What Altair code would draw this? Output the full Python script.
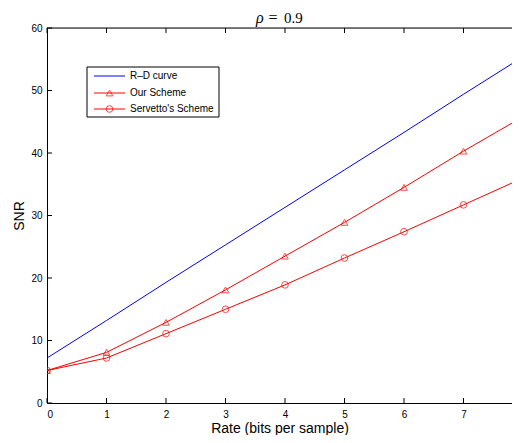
import altair as alt
import pandas as pd

# ---- data ----
rate = [0, 1, 2, 3, 4, 5, 6, 7, 8]
rd_curve = [7.2, 13.2, 19.3, 25.3, 31.3, 37.3, 43.3, 49.4, 55.4]
our_scheme = [5.2, 8.1, 12.9, 18.1, 23.5, 28.9, 34.5, 40.3, 45.8]
servetto = [5.2, 7.2, 11.1, 15.0, 18.9, 23.2, 27.4, 31.7, 36.0]
series_names = ["R\u2013D curve", "Our Scheme", "Servetto's Scheme"]
series_colors = ["#0000ff", "#ff0000", "#ff0000"]
series_shapes = [None, "triangle-up", "circle"]
x_ticks = [0, 1, 2, 3, 4, 5, 6, 7]
y_ticks = [0, 10, 20, 30, 40, 50, 60]

W, H = 465, 375          # plot area; x = 8 would sit 11px beyond the right edge
X_MAX = 7.815            # visible part of the 0..8 axis
FONT = "Liberation Sans"

rows = []
for name, vals in zip(series_names, [rd_curve, our_scheme, servetto]):
    for r, v in zip(rate, vals):
        rows.append({"rate": r, "snr": v, "series": name})
df = pd.DataFrame(rows)

xscale = alt.Scale(domain=[0, X_MAX], nice=False, zero=False)
yscale = alt.Scale(domain=[0, 60], nice=False)
color_scale = alt.Scale(domain=series_names, range=series_colors)

x_axis = alt.Axis(values=x_ticks, ticks=False, tickSize=0, labelPadding=6,
                  grid=False, title="Rate (bits per sample)", titlePadding=2,
                  labelFontSize=10, titleFontSize=14, labelFont=FONT,
                  titleFont=FONT, titleFontWeight="normal",
                  domainColor="black", labelColor="black", titleColor="black")
y_axis = alt.Axis(values=y_ticks, ticks=False, tickSize=0, labelPadding=5,
                  grid=False, title="SNR", titlePadding=4,
                  labelFontSize=10, titleFontSize=14, labelFont=FONT,
                  titleFont=FONT, titleFontWeight="normal",
                  domainColor="black", labelColor="black", titleColor="black")

X = lambda: alt.X("rate:Q", scale=xscale, axis=x_axis, title="Rate (bits per sample)")
Y = lambda: alt.Y("snr:Q", scale=yscale, axis=y_axis, title="SNR")

base = alt.Chart(df)

lines = base.mark_line(strokeWidth=1, clip=True).encode(
    x=X(), y=Y(),
    color=alt.Color("series:N", scale=color_scale, legend=None),
    detail="series:N",
)

points = base.transform_filter(
    alt.datum.series != series_names[0]
).mark_point(filled=False, strokeWidth=1, size=45, clip=True).encode(
    x=X(), y=Y(),
    color=alt.Color("series:N", scale=color_scale, legend=None),
    shape=alt.Shape("series:N",
                    scale=alt.Scale(domain=series_names[1:], range=series_shapes[1:]),
                    legend=None),
)

xt = pd.DataFrame({"rate": x_ticks})
yt = pd.DataFrame({"snr": y_ticks})
tick_style = dict(color="black", strokeWidth=1)

ticks_bottom = alt.Chart(xt).mark_rule(**tick_style).encode(
    x=X(), y=alt.value(H), y2=alt.value(H - 5))
ticks_top = alt.Chart(xt).mark_rule(**tick_style).encode(
    x=X(), y=alt.value(0), y2=alt.value(5))
ticks_left = alt.Chart(yt).mark_rule(**tick_style).encode(
    y=Y(), x=alt.value(0), x2=alt.value(5))

one = pd.DataFrame({"k": [0]})
top_frame = alt.Chart(one).mark_rule(color="black", strokeWidth=1).encode(
    x=alt.value(0), x2=alt.value(W), y=alt.value(0))

# ---- legend box ----
legend_layers = [
    alt.Chart(one).mark_rect(fill="white", stroke="black", strokeWidth=1).encode(
        x=alt.value(40), x2=alt.value(172), y=alt.value(39), y2=alt.value(89))
]
entry_y = [48, 65, 81]
for name, col, shp, yy in zip(series_names, series_colors, series_shapes, entry_y):
    legend_layers.append(
        alt.Chart(one).mark_rule(color=col, strokeWidth=1).encode(
            x=alt.value(47), x2=alt.value(78), y=alt.value(yy)))
    if shp:
        legend_layers.append(
            alt.Chart(one).mark_point(shape=shp, filled=False, color=col,
                                      strokeWidth=1, size=45).encode(
                x=alt.value(62.5), y=alt.value(yy)))
    legend_layers.append(
        alt.Chart(pd.DataFrame({"label": [name]})).mark_text(
            align="left", baseline="middle", font=FONT, fontSize=10, color="black").encode(
            x=alt.value(83), y=alt.value(yy), text="label:N"))

# ---- title: rho = 0.9 ----
title_layers = [
    alt.Chart(pd.DataFrame({"s": ["\u03c1"]})).mark_text(
        align="left", baseline="alphabetic", font="Liberation Serif", fontStyle="italic",
        fontSize=16, color="black").encode(x=alt.value(209), y=alt.value(-5.5), text="s:N"),
    alt.Chart(pd.DataFrame({"s": ["="]})).mark_text(
        align="center", baseline="alphabetic", font="Liberation Serif",
        fontSize=16, color="black").encode(x=alt.value(226), y=alt.value(-5.5), text="s:N"),
    alt.Chart(pd.DataFrame({"s": ["0.9"]})).mark_text(
        align="left", baseline="alphabetic", font="Liberation Serif",
        fontSize=15, color="black").encode(x=alt.value(237), y=alt.value(-5.5), text="s:N"),
]

chart = alt.layer(
    lines, points, ticks_bottom, ticks_top, ticks_left, top_frame,
    *legend_layers, *title_layers
).properties(
    width=W, height=H,
    autosize=alt.AutoSizeParams(type="none"),
    padding={"left": 39, "top": 20, "right": 0, "bottom": 32},
).configure_view(stroke=None).configure(background="white")

chart.save("out.html", embed_options={"renderer": "svg", "actions": False})
